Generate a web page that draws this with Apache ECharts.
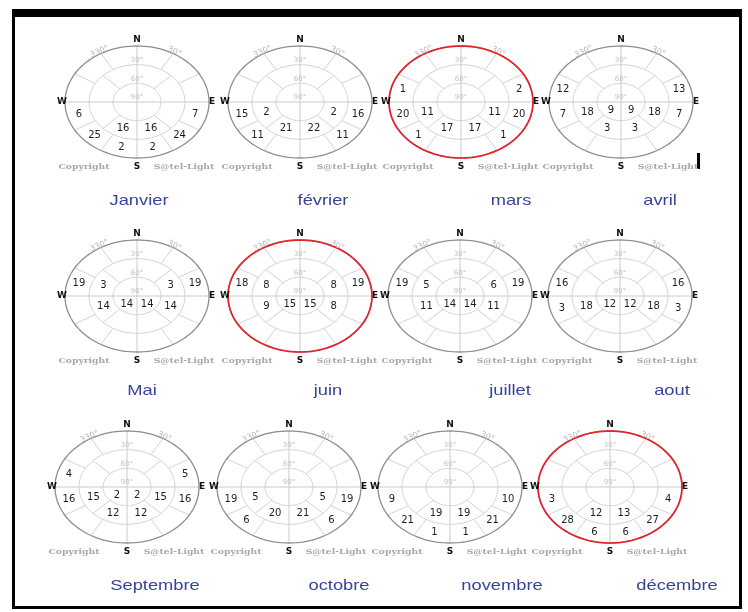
<!DOCTYPE html>
<html>
<head>
<meta charset="utf-8">
<script src="https://cdn.jsdelivr.net/npm/echarts/dist/echarts.min.js"></script>
<style>
  html, body { margin: 0; padding: 0; background: #ffffff; }
  #chart { width: 748px; height: 612px; }
</style>
</head>
<body>
<div id="chart"></div>
<script>
// Monthly sunshine hours per sky cell.
// Each cell: [azimuthFrom, azimuthTo, elevationFrom, hours]; elevation bands are 30° high.
const months = ['Janvier', 'février', 'mars', 'avril', 'Mai', 'juin',
                'juillet', 'aout', 'Septembre', 'octobre', 'novembre', 'décembre'];

const janvier   = [[240,270,0,6],[210,240,0,25],[180,225,30,16],[180,210,0,2],[150,180,0,2],[135,180,30,16],[120,150,0,24],[90,120,0,7]];
const fevrier   = [[240,270,0,15],[225,270,30,2],[210,240,0,11],[180,225,30,21],[135,180,30,22],[120,150,0,11],[90,135,30,2],[90,120,0,16]];
const mars      = [[270,300,0,1],[240,270,0,20],[225,270,30,11],[210,240,0,1],[180,225,30,17],[135,180,30,17],[120,150,0,1],[90,135,30,11],[90,120,0,20],[60,90,0,2]];
const avril     = [[270,300,0,12],[240,270,0,7],[225,270,30,18],[180,270,60,9],[180,225,30,3],[135,180,30,3],[90,180,60,9],[90,135,30,18],[90,120,0,7],[60,90,0,13]];
const mai       = [[270,300,0,19],[270,315,30,3],[225,270,30,14],[180,270,60,14],[90,180,60,14],[90,135,30,14],[45,90,30,3],[60,90,0,19]];
const juin      = [[270,300,0,18],[270,315,30,8],[225,270,30,9],[180,270,60,15],[90,180,60,15],[90,135,30,8],[45,90,30,8],[60,90,0,19]];
const juillet   = [[270,300,0,19],[270,315,30,5],[225,270,30,11],[180,270,60,14],[90,180,60,14],[90,135,30,11],[45,90,30,6],[60,90,0,19]];
const aout      = [[270,300,0,16],[240,270,0,3],[225,270,30,18],[180,270,60,12],[90,180,60,12],[90,135,30,18],[90,120,0,3],[60,90,0,16]];
const septembre = [[270,300,0,4],[240,270,0,16],[225,270,30,15],[180,270,60,2],[180,225,30,12],[135,180,30,12],[90,180,60,2],[90,135,30,15],[90,120,0,16],[60,90,0,5]];
const octobre   = [[240,270,0,19],[225,270,30,5],[210,240,0,6],[180,225,30,20],[135,180,30,21],[120,150,0,6],[90,135,30,5],[90,120,0,19]];
const novembre  = [[240,270,0,9],[210,240,0,21],[180,225,30,19],[180,210,0,1],[150,180,0,1],[135,180,30,19],[120,150,0,21],[90,120,0,10]];
const decembre  = [[240,270,0,3],[210,240,0,28],[180,225,30,12],[180,210,0,6],[150,180,0,6],[135,180,30,13],[120,150,0,27],[90,120,0,4]];

const monthCells = [janvier, fevrier, mars, avril, mai, juin, juillet, aout, septembre, octobre, novembre, decembre];

// Months marked with a red outline (equinoxes and solstices)
const highlighted = ['mars', 'juin', 'décembre'];

// Sky grid: elevation rings and azimuth spokes
const elevationRings = [30, 60];
const outerSpokes = [30, 60, 120, 150, 210, 240, 300, 330];
const middleSpokes = [45, 135, 225, 315];
const azimuthTicks = [330, 30];
const elevationTicks = [30, 60, 90];
const cardinals = ['N', 'E', 'S', 'W'];

// ---- layout (pixels) ----
const RX = 72, RY = 56;
const centers = [
  [137, 102], [300, 102], [461, 102], [621, 102],
  [137, 296], [300, 296], [460, 296], [620, 296],
  [127, 487], [289, 487], [450, 487], [610, 487]
];
const titlePos = [
  [139, 201], [323, 201], [511, 201], [660, 201],
  [142, 391], [328, 391], [510, 391], [672, 391],
  [155, 586], [339, 586], [502, 586], [677, 586]
];

const D = Math.PI / 180;
// zenith distance: horizon at 1, zenith at 0
const rad = el => (90 - el) / 90;

function point(api, az, r) {
  return api.coord([Math.sin(az * D) * r, Math.cos(az * D) * r]);
}

function ellipsePoints(api, r) {
  const pts = [];
  for (let a = 0; a <= 360; a += 3) pts.push(point(api, a, r));
  return pts;
}

function gridRenderer(name) {
  return function (params, api) {
    const ch = [];
    const thin = { stroke: '#d3d3d3', lineWidth: 1, fill: null };
    elevationRings.forEach(el => {
      ch.push({ type: 'polyline', shape: { points: ellipsePoints(api, rad(el)) }, style: thin });
    });
    // full N-S and E-W axes
    [[0, 180], [90, 270]].forEach(([a, b]) => {
      const p = point(api, a, 1), q = point(api, b, 1);
      ch.push({ type: 'line', shape: { x1: p[0], y1: p[1], x2: q[0], y2: q[1] }, style: { stroke: '#cacaca', lineWidth: 1 } });
    });
    outerSpokes.forEach(a => {
      const p = point(api, a, rad(elevationRings[0])), q = point(api, a, 1);
      ch.push({ type: 'line', shape: { x1: p[0], y1: p[1], x2: q[0], y2: q[1] }, style: thin });
    });
    middleSpokes.forEach(a => {
      const p = point(api, a, rad(elevationRings[1])), q = point(api, a, rad(elevationRings[0]));
      ch.push({ type: 'line', shape: { x1: p[0], y1: p[1], x2: q[0], y2: q[1] }, style: thin });
    });
    // horizon
    ch.push({ type: 'polyline', shape: { points: ellipsePoints(api, 1) }, style: { stroke: '#8e8e8e', lineWidth: 1.3, fill: null } });
    if (highlighted.indexOf(name) >= 0) {
      ch.push({ type: 'polyline', shape: { points: ellipsePoints(api, 1) }, style: { stroke: '#e8202a', lineWidth: 1.7, fill: null } });
    }
    // elevation tick labels along the north axis
    elevationTicks.forEach(el => {
      const p = point(api, 0, rad(el));
      ch.push({ type: 'text', x: p[0], y: p[1] - 1, style: { text: el + '°', fill: '#c2c2c2', font: '7px "DejaVu Sans"', align: 'center', verticalAlign: 'bottom' } });
    });
    // azimuth tick labels along the horizon
    azimuthTicks.forEach(az => {
      const p = point(api, az, 1.04);
      const rot = Math.atan2(RY * Math.sin(az * D), RX * Math.cos(az * D));
      ch.push({ type: 'text', x: p[0], y: p[1], rotation: -rot, style: { text: az + '°', fill: '#b4b4b4', font: '8px "DejaVu Sans"', align: 'center', verticalAlign: 'middle' } });
    });
    // cardinal points
    const n = point(api, 0, 1), e = point(api, 90, 1), s = point(api, 180, 1), w = point(api, 270, 1);
    const bold = 'bold 9px "DejaVu Sans"';
    const card = [[n[0], n[1] - 6], [e[0] + 3, e[1]], [s[0], s[1] + 9], [w[0] - 3, w[1]]];
    cardinals.forEach((c, i) => {
      ch.push({ type: 'text', x: card[i][0], y: card[i][1], style: { text: c, fill: '#111', font: bold, align: 'center', verticalAlign: 'middle' } });
    });
    // credits under the diagram
    ch.push({ type: 'text', x: s[0] - 53, y: s[1] + 9, scaleX: 1.15, style: { text: 'Copyright', fill: '#a8a8a8', font: 'bold 8px "DejaVu Serif"', align: 'center', verticalAlign: 'middle' } });
    ch.push({ type: 'text', x: s[0] + 47, y: s[1] + 9, scaleX: 1.15, style: { text: 'S@tel-Light', fill: '#a8a8a8', font: 'bold 8px "DejaVu Serif"', align: 'center', verticalAlign: 'middle' } });
    return { type: 'group', children: ch };
  };
}

// value label at the area centroid of its sky cell
function cellRenderer(params, api) {
  const a0 = api.value(0), a1 = api.value(1), e0 = api.value(2), v = api.value(3);
  const rOut = rad(e0), rIn = rad(e0 + 30);
  const half = (a1 - a0) / 2 * D;
  const dist = (2 / 3) * (Math.pow(rOut, 3) - Math.pow(rIn, 3)) / (Math.pow(rOut, 2) - Math.pow(rIn, 2)) * Math.sin(half) / half;
  const p = point(api, (a0 + a1) / 2, dist);
  return {
    type: 'text', x: p[0], y: p[1],
    style: { text: String(v), fill: '#1e1e1e', font: '10px "DejaVu Sans"', align: 'center', verticalAlign: 'middle' }
  };
}

const grids = [], xAxes = [], yAxes = [], series = [], graphics = [];
months.forEach((name, i) => {
  const [cx, cy] = centers[i];
  grids.push({ left: cx - RX, top: cy - RY, width: 2 * RX, height: 2 * RY, containLabel: false });
  xAxes.push({ type: 'value', gridIndex: i, min: -1, max: 1, show: false });
  yAxes.push({ type: 'value', gridIndex: i, min: -1, max: 1, show: false });
  series.push({
    type: 'custom', xAxisIndex: i, yAxisIndex: i, silent: true, clip: false,
    data: [[0, 0]], renderItem: gridRenderer(name), z: 1
  });
  series.push({
    type: 'custom', name: name, xAxisIndex: i, yAxisIndex: i, silent: true, clip: false,
    dimensions: ['azFrom', 'azTo', 'elFrom', 'hours'],
    encode: { x: 0, y: 2 },
    data: monthCells[i], renderItem: cellRenderer, z: 2
  });
  graphics.push({
    type: 'text', x: titlePos[i][0], y: titlePos[i][1], scaleX: 1.22,
    style: { text: name, fill: '#35449a', font: '15px "Liberation Sans"', align: 'center', verticalAlign: 'middle' }
  });
});

// black frame
graphics.push({ type: 'rect', shape: { x: 12, y: 9, width: 730, height: 8 }, style: { fill: '#000' } });
graphics.push({ type: 'rect', shape: { x: 12, y: 9, width: 3, height: 600 }, style: { fill: '#000' } });
graphics.push({ type: 'rect', shape: { x: 739, y: 9, width: 3, height: 600 }, style: { fill: '#000' } });
graphics.push({ type: 'rect', shape: { x: 12, y: 606, width: 730, height: 3 }, style: { fill: '#000' } });
graphics.push({ type: 'rect', shape: { x: 697, y: 153, width: 3, height: 16 }, style: { fill: '#000' } });

const chart = echarts.init(document.getElementById('chart'), null, { renderer: 'canvas' });
chart.setOption({
  animation: false,
  backgroundColor: '#ffffff',
  grid: grids,
  xAxis: xAxes,
  yAxis: yAxes,
  series: series,
  graphic: graphics
});
</script>
</body>
</html>
